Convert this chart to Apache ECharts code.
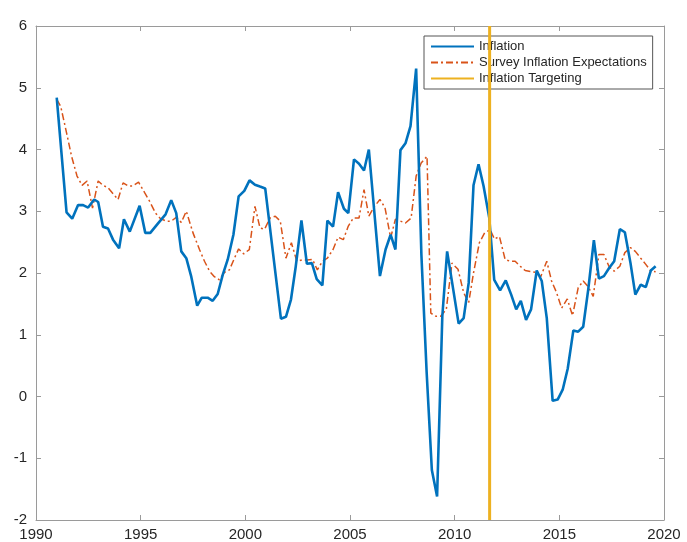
<!DOCTYPE html>
<html>
<head>
<meta charset="utf-8">
<script src="https://cdn.jsdelivr.net/npm/echarts@6/dist/echarts.min.js"></script>
<style>
  html, body { margin: 0; padding: 0; background: #fff; }
  #chart { width: 687px; height: 542px; }
</style>
</head>
<body>
<div id="chart"></div>
<script>
// Quarterly inflation (%), by fractional year
const inflationYears = [
  1990.99, 1991.46, 1991.73, 1992.01, 1992.25, 1992.49, 1992.78, 1992.97,
  1993.20, 1993.44, 1993.68, 1993.97, 1994.20, 1994.48, 1994.95, 1995.22,
  1995.46, 1995.82, 1996.19, 1996.46, 1996.70, 1996.94, 1997.18, 1997.41,
  1997.70, 1997.92, 1998.20, 1998.44, 1998.68, 1998.92, 1999.16, 1999.43,
  1999.68, 1999.95, 2000.20, 2000.46, 2000.70, 2000.95, 2001.70, 2001.94,
  2002.18, 2002.41, 2002.68, 2002.94, 2003.18, 2003.41, 2003.68, 2003.92,
  2004.19, 2004.43, 2004.71, 2004.92, 2005.19, 2005.43, 2005.67, 2005.90,
  2006.43, 2006.70, 2006.94, 2007.17, 2007.41, 2007.65, 2007.89, 2008.16,
  2008.41, 2008.66, 2008.91, 2009.16, 2009.41, 2009.64, 2009.90, 2010.19,
  2010.43, 2010.67, 2010.90, 2011.14, 2011.38, 2011.65, 2011.89, 2012.17,
  2012.44, 2012.70, 2012.94, 2013.16, 2013.41, 2013.65, 2013.92, 2014.16,
  2014.40, 2014.68, 2014.92, 2015.16, 2015.40, 2015.67, 2015.90, 2016.14,
  2016.38, 2016.65, 2016.89, 2017.13, 2017.38, 2017.62, 2017.89, 2018.13,
  2018.40, 2018.63, 2018.89, 2019.13, 2019.37, 2019.60
];
const inflationValues = [
  4.84, 2.98, 2.88, 3.10, 3.10, 3.06, 3.19, 3.15,
  2.75, 2.72, 2.54, 2.40, 2.87, 2.67, 3.09, 2.65,
  2.65, 2.80, 2.95, 3.18, 2.97, 2.35, 2.24, 1.95,
  1.47, 1.60, 1.60, 1.55, 1.66, 1.97, 2.22, 2.62,
  3.24, 3.33, 3.50, 3.43, 3.40, 3.37, 1.26, 1.29,
  1.57, 2.11, 2.85, 2.15, 2.16, 1.90, 1.80, 2.85,
  2.75, 3.31, 3.04, 2.97, 3.84, 3.77, 3.66, 4.00,
  1.95, 2.38, 2.62, 2.38, 3.99, 4.10, 4.38, 5.31,
  2.30, 0.40, -1.19, -1.62, 1.30, 2.35, 1.80, 1.18,
  1.27, 1.84, 3.42, 3.76, 3.41, 2.90, 1.89, 1.72,
  1.88, 1.65, 1.41, 1.55, 1.24, 1.41, 2.04, 1.87,
  1.27, -0.07, -0.05, 0.11, 0.45, 1.07, 1.05, 1.13,
  1.73, 2.53, 1.91, 1.95, 2.08, 2.19, 2.71, 2.66,
  2.16, 1.65, 1.81, 1.77, 2.04, 2.11
];

// Survey-based inflation expectations (%)
const surveyYears = [
  1990.99, 1991.18, 1991.46, 1991.70, 1991.96, 1992.20, 1992.44, 1992.70,
  1992.97, 1993.20, 1993.44, 1993.92, 1994.16, 1994.40, 1994.63, 1994.90,
  1995.19, 1995.43, 1995.71, 1995.95, 1996.22, 1996.46, 1996.70, 1996.94,
  1997.18, 1997.50, 1997.81, 1998.05, 1998.29, 1998.52, 1998.76, 1999.00,
  1999.24, 1999.48, 1999.68, 1999.92, 2000.19, 2000.46, 2000.70, 2000.92,
  2001.18, 2001.43, 2001.67, 2001.94, 2002.20, 2002.46, 2002.70, 2002.94,
  2003.21, 2003.44, 2003.68, 2003.92, 2004.19, 2004.43, 2004.68, 2004.92,
  2005.16, 2005.43, 2005.67, 2005.90, 2006.17, 2006.43, 2006.67, 2006.94,
  2007.17, 2007.41, 2007.65, 2007.92, 2008.16, 2008.40, 2008.68, 2008.86,
  2009.10, 2009.33, 2009.60, 2009.87, 2010.16, 2010.43, 2010.67, 2010.90,
  2011.18, 2011.43, 2011.70, 2011.90, 2012.14, 2012.41, 2012.65, 2012.89,
  2013.13, 2013.37, 2013.87, 2014.11, 2014.40, 2014.63, 2014.87, 2015.11,
  2015.38, 2015.63, 2015.90, 2016.14, 2016.38, 2016.62, 2016.89, 2017.13,
  2017.38, 2017.62, 2017.89, 2018.13, 2018.40, 2018.63, 2018.89, 2019.13,
  2019.37, 2019.60
];
const surveyValues = [
  4.81, 4.70, 4.27, 3.89, 3.57, 3.42, 3.49, 3.05,
  3.49, 3.42, 3.38, 3.19, 3.46, 3.41, 3.41, 3.47,
  3.30, 3.16, 2.97, 2.88, 2.84, 2.84, 2.90, 2.82,
  3.00, 2.65, 2.38, 2.19, 2.03, 1.94, 1.89, 2.01,
  2.05, 2.24, 2.39, 2.31, 2.38, 3.08, 2.73, 2.71,
  2.89, 2.92, 2.84, 2.24, 2.49, 2.19, 2.21, 2.21,
  2.22, 2.05, 2.19, 2.24, 2.38, 2.58, 2.54, 2.76,
  2.89, 2.89, 3.35, 2.92, 3.08, 3.19, 3.06, 2.57,
  2.87, 2.84, 2.81, 2.89, 3.57, 3.78, 3.89, 1.35,
  1.30, 1.30, 1.41, 2.16, 2.06, 1.68, 1.52, 2.00,
  2.49, 2.65, 2.70, 2.55, 2.59, 2.22, 2.19, 2.19,
  2.11, 2.04, 2.01, 1.94, 2.19, 1.87, 1.68, 1.43,
  1.58, 1.31, 1.76, 1.87, 1.78, 1.62, 2.30, 2.30,
  2.10, 2.03, 2.11, 2.33, 2.41, 2.35, 2.24, 2.14,
  2.03, 2.02
];

// Date inflation targeting was adopted, and the axis ranges
const targetingYear = 2011.67;
const xTicks = [1990, 1995, 2000, 2005, 2010, 2015, 2020];
const yTicks = [-2, -1, 0, 1, 2, 3, 4, 5, 6];

const pair = (xs, ys) => xs.map((x, i) => [x, ys[i]]);
const axisGray = '#9a9a9a';
const textColor = '#262626';
const font = '"Liberation Sans", Arial, Helvetica, sans-serif';

const chart = echarts.init(document.getElementById('chart'));

const xBase = {
  type: 'value',
  min: xTicks[0],
  max: xTicks[xTicks.length - 1],
  interval: 5,
  splitLine: { show: false },
  axisLine: { show: true, onZero: false, lineStyle: { color: axisGray, width: 1 } },
  axisTick: { show: true, inside: true, length: 5, lineStyle: { color: axisGray } }
};
const yBase = {
  type: 'value',
  min: yTicks[0],
  max: yTicks[yTicks.length - 1],
  interval: 1,
  splitLine: { show: false },
  axisLine: { show: true, onZero: false, lineStyle: { color: axisGray, width: 1 } },
  axisTick: { show: true, inside: true, length: 5, lineStyle: { color: axisGray } }
};

chart.setOption({
  animation: false,
  backgroundColor: '#ffffff',
  grid: { left: 36, right: 23, top: 26, bottom: 22, containLabel: false },
  xAxis: [
    Object.assign({}, xBase, {
      position: 'bottom',
      axisLabel: {
        color: textColor, fontSize: 15, fontFamily: font, margin: 7,
        formatter: v => String(v)
      }
    }),
    Object.assign({}, xBase, { position: 'top', axisLabel: { show: false } })
  ],
  yAxis: [
    Object.assign({}, yBase, {
      position: 'left',
      axisLabel: { color: textColor, fontSize: 15, fontFamily: font, margin: 9 }
    }),
    Object.assign({}, yBase, { position: 'right', axisLabel: { show: false } })
  ],
  legend: {
    orient: 'vertical',
    left: 424,
    top: 36,
    padding: [4, 6, 4, 6],
    itemGap: 3,
    itemWidth: 43,
    itemHeight: 14,
    backgroundColor: '#ffffff',
    borderColor: '#555555',
    borderWidth: 1,
    borderRadius: 0,
    itemStyle: { opacity: 0 },
    textStyle: { color: textColor, fontSize: 13, fontFamily: font },
    data: ['Inflation', 'Survey Inflation Expectations', 'Inflation Targeting']
  },
  series: [
    {
      name: 'Survey Inflation Expectations',
      type: 'line',
      data: pair(surveyYears, surveyValues),
      symbol: 'none',
      showSymbol: false,
      z: 3,
      lineStyle: { color: '#D95319', width: 1.5, type: [7, 3, 2, 3] },
      itemStyle: { color: '#D95319' }
    },
    {
      name: 'Inflation',
      type: 'line',
      data: pair(inflationYears, inflationValues),
      symbol: 'none',
      showSymbol: false,
      z: 4,
      lineStyle: { color: '#0072BD', width: 2.6 },
      itemStyle: { color: '#0072BD' }
    },
    {
      name: 'Inflation Targeting',
      type: 'line',
      data: [[targetingYear, yTicks[0]], [targetingYear, yTicks[yTicks.length - 1]]],
      symbol: 'none',
      showSymbol: false,
      z: 5,
      lineStyle: { color: '#EDB120', width: 3 },
      itemStyle: { color: '#EDB120' }
    }
  ]
});
</script>
</body>
</html>
